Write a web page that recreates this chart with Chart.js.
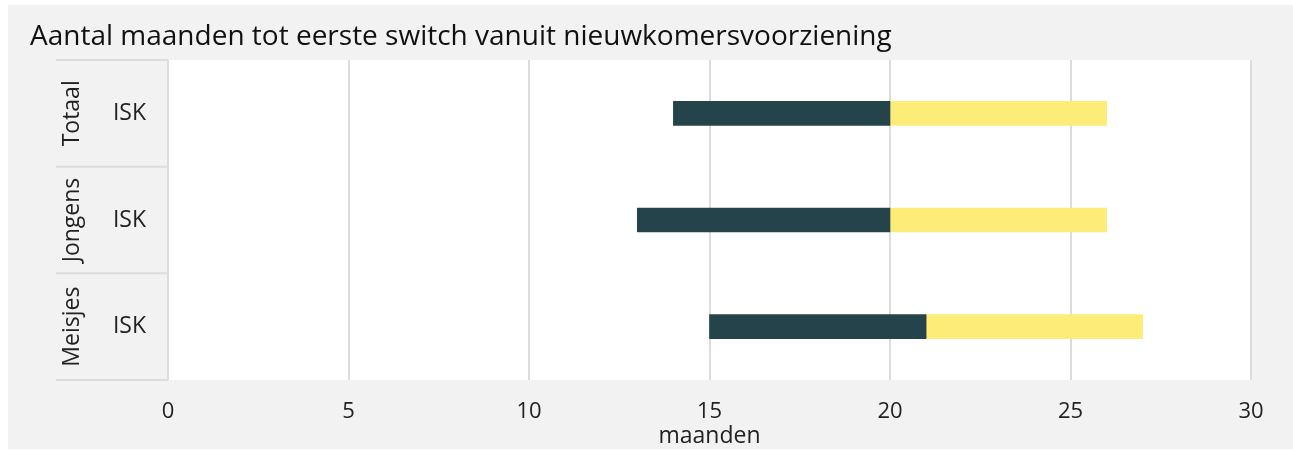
<!DOCTYPE html>
<html>
<head>
<meta charset="utf-8">
<script src="https://cdn.jsdelivr.net/npm/chart.js@4.4.1/dist/chart.umd.min.js"></script>
<style>
  html, body { margin: 0; padding: 0; background: #fff; }
  #wrap { width: 1293px; height: 450px; }
</style>
</head>
<body>
<div id="wrap"><canvas id="chart"></canvas></div>
<script>
// groups and sub-categories
const groups = ['Totaal', 'Jongens', 'Meisjes'];
const categories = ['ISK', 'ISK', 'ISK'];
// months: start of dark segment, middle, end of yellow segment
const lowValues = [14, 13, 15];
const midValues = [20, 20, 21];
const highValues = [26, 26, 27];
const xTicks = [0, 5, 10, 15, 20, 25, 30];

const FONT = '"Open Sans", "Noto Sans", sans-serif';
const GRID = '#dcdcdc';

// panel background, white plot area and left label column
const backdrop = {
    id: 'backdrop',
    beforeDraw(chart) {
        const { ctx, chartArea, scales } = chart;
        ctx.save();
        ctx.fillStyle = '#f2f2f2';
        ctx.fillRect(8, 5, chart.width - 8, chart.height - 6);
        ctx.fillStyle = '#ffffff';
        ctx.fillRect(chartArea.left, chartArea.top, chartArea.right - chartArea.left, chartArea.bottom - chartArea.top);

        // separators in label column
        const y = scales.y;
        ctx.strokeStyle = GRID;
        ctx.lineWidth = 2;
        const left = 56;
        const edges = [chartArea.top];
        for (let i = 1; i < groups.length; i++) {
            edges.push((y.getPixelForValue(i - 1) + y.getPixelForValue(i)) / 2);
        }
        edges.push(chartArea.bottom);
        edges.forEach(e => {
            ctx.beginPath();
            ctx.moveTo(left, e);
            ctx.lineTo(chartArea.left, e);
            ctx.stroke();
        });

        // rotated group labels
        ctx.fillStyle = '#222';
        ctx.font = '23px ' + FONT;
        ctx.textAlign = 'center';
        ctx.textBaseline = 'middle';
        groups.forEach((g, i) => {
            ctx.save();
            ctx.translate(72, y.getPixelForValue(i));
            ctx.rotate(-Math.PI / 2);
            ctx.fillText(g, 0, 0);
            ctx.restore();
        });
        ctx.restore();
    }
};

const ctx = document.getElementById('chart').getContext('2d');
new Chart(ctx, {
    type: 'bar',
    data: {
        labels: categories,
        datasets: [{
            label: 'laag',
            data: lowValues.map((v, i) => [v, midValues[i]]),
            backgroundColor: '#25434a',
            barThickness: 24,
            grouped: false
        }, {
            label: 'hoog',
            data: midValues.map((v, i) => [v, highValues[i]]),
            backgroundColor: '#fdec78',
            barThickness: 24,
            grouped: false
        }]
    },
    options: {
        indexAxis: 'y',
        responsive: true,
        maintainAspectRatio: false,
        animation: false,
        layout: { padding: { left: 30, right: 42, top: 0, bottom: 0 } },
        plugins: {
            legend: { display: false },
            tooltip: { enabled: false },
            title: {
                display: true,
                text: 'Aantal maanden tot eerste switch vanuit nieuwkomersvoorziening',
                align: 'start',
                color: '#111',
                font: { family: FONT, size: 28, weight: 'normal' },
                padding: { top: 20, bottom: 6.4 }
            }
        },
        scales: {
            x: {
                min: 0,
                max: 30,
                afterBuildTicks(scale) {
                    scale.ticks = xTicks.map(v => ({ value: v }));
                },
                afterFit(scale) { scale.height = 70; },
                grid: { color: GRID, lineWidth: 2, drawTicks: false },
                border: { display: false },
                ticks: {
                    color: '#222',
                    padding: 19,
                    font: { family: FONT, size: 22 }
                },
                title: {
                    display: true,
                    text: 'maanden',
                    color: '#222',
                    font: { family: FONT, size: 23 },
                    padding: { top: 0, bottom: 0 }
                }
            },
            y: {
                afterFit(scale) { scale.width = 138; },
                grid: { display: false, drawTicks: false },
                border: { display: false },
                ticks: {
                    color: '#222',
                    padding: 22,
                    font: { family: FONT, size: 23 }
                }
            }
        }
    },
    plugins: [backdrop]
});
</script>
</body>
</html>
